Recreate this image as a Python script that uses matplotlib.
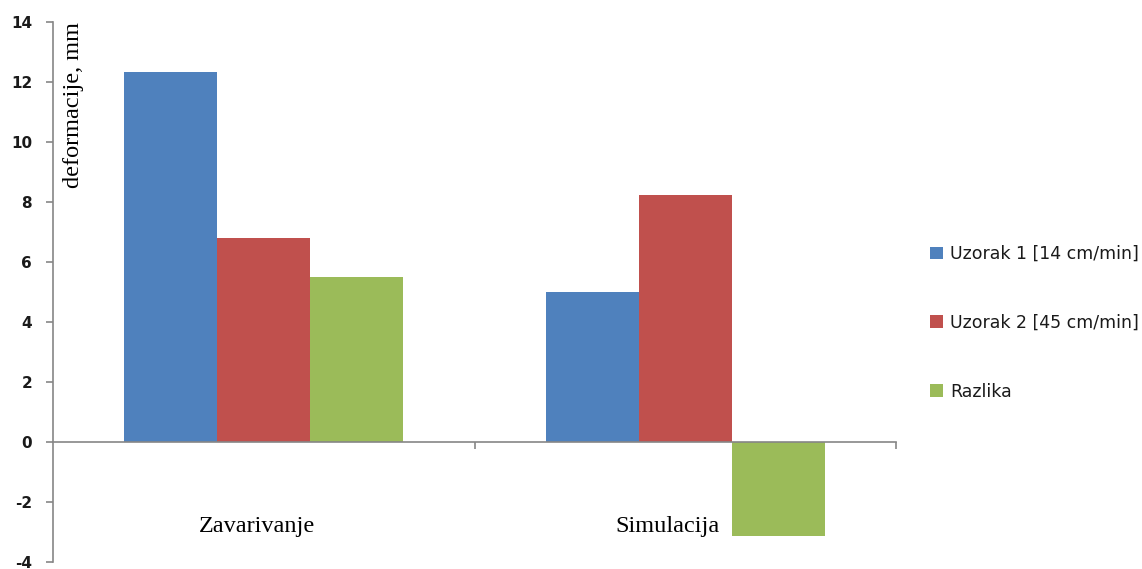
import numpy as np
import matplotlib.pyplot as plt
from matplotlib.patches import Patch

# data
categories = ['Zavarivanje', 'Simulacija']
series_names = ['Uzorak 1 [14 cm/min]', 'Uzorak 2 [45 cm/min]', 'Razlika']
uzorak1 = [12.35, 4.99]
uzorak2 = [6.79, 8.23]
razlika = [5.51, -3.14]
y_ticks = [-4, -2, 0, 2, 4, 6, 8, 10, 12, 14]

colors = ['#4f81bd', '#c0504d', '#9bbb59']
axis_color = '#868686'
serif = ['Liberation Serif', 'DejaVu Serif']

fig = plt.figure(figsize=(11.42, 5.69), dpi=100)
ax = fig.add_axes([0.0464, 0.0123, 0.7382, 0.949])

x = np.arange(len(categories))
width = 0.2206
for i, (vals, col) in enumerate(zip([uzorak1, uzorak2, razlika], colors)):
    ax.bar(x + (i - 1) * width, vals, width, color=col, edgecolor='none',
           zorder=2)

ax.set_xlim(-0.5, len(categories) - 0.5)
ax.set_ylim(-4, 14)
ax.set_yticks(y_ticks)
ax.set_yticklabels([str(t) for t in y_ticks])

# spines: y axis on left, x axis through zero
for side in ('top', 'right'):
    ax.spines[side].set_visible(False)
ax.spines['left'].set_color(axis_color)
ax.spines['bottom'].set_color(axis_color)
ax.spines['left'].set_linewidth(1.2)
ax.spines['bottom'].set_linewidth(1.2)
ax.spines['bottom'].set_position(('data', 0))

ax.tick_params(axis='y', direction='out', length=5, width=1.2,
               color=axis_color, labelsize=11, labelcolor='#1a1a1a', pad=10)
for lbl in ax.get_yticklabels():
    lbl.set_fontweight('semibold')
# category boundary ticks on the x axis
ax.set_xticks(np.arange(len(categories)) + 0.5)
ax.set_xticklabels([])
ax.tick_params(axis='x', direction='out', length=5, width=1.2,
               color=axis_color)

# category labels sit low in the plot, a bit left of the group centre
label_shift = [-0.016, -0.043]
for xi, name, dx in zip(x, categories, label_shift):
    ax.text(xi + dx, -2.8, name, ha='center', va='center',
            fontsize=17.5, family=serif, color='black')

ax.text(0.012, 14, 'deformacije, mm', rotation=90, ha='left', va='top',
        fontsize=17.5, family=serif, color='black',
        transform=ax.get_yaxis_transform())

handles = [Patch(facecolor=c, edgecolor='none') for c in colors]
fig.legend(handles, series_names, loc='upper left',
           bbox_to_anchor=(930 / 1142, 1 - 245 / 569), frameon=False,
           fontsize=12.5, borderpad=0, borderaxespad=0, handlelength=0.75,
           handleheight=0.75, handletextpad=0.4, labelspacing=2.93,
           labelcolor='#1a1a1a')

fig.savefig('out.png', dpi=100)
